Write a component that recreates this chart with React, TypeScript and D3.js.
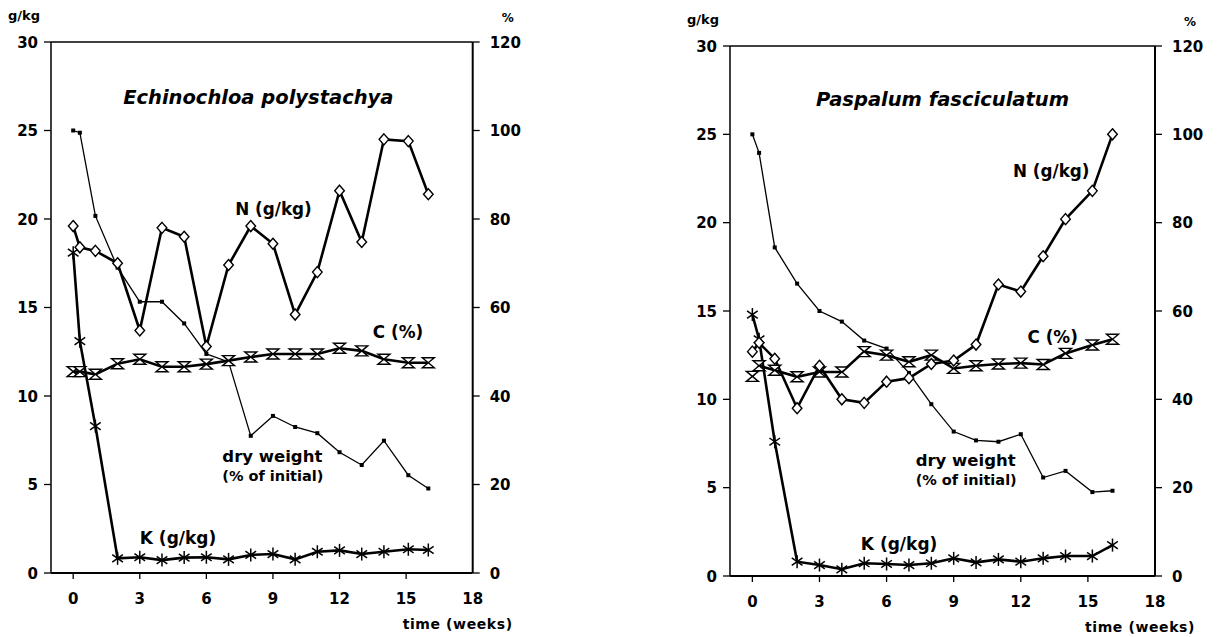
import React from "react";
import { scaleLinear, line } from "d3";

// ---- data ----
const echWeeks = [0, 0.3, 1, 2, 3, 4, 5, 6, 7, 8, 9, 10, 11, 12, 13, 14, 15.1, 16];
const echN = [19.6, 18.4, 18.2, 17.5, 13.7, 19.5, 19.0, 12.8, 17.4, 19.6, 18.6, 14.6, 17.0, 21.6, 18.7, 24.5, 24.4, 21.4];
const echK = [18.1, 13.1, 8.3, 0.83, 0.89, 0.73, 0.87, 0.89, 0.77, 1.02, 1.07, 0.77, 1.2, 1.28, 1.07, 1.2, 1.34, 1.3];
const echC = [45.5, 45.5, 44.9, 47.3, 48.3, 46.6, 46.6, 47.2, 48.0, 48.8, 49.5, 49.5, 49.5, 50.8, 50.2, 48.3, 47.5, 47.5];
const echDry = [100, 99.5, 80.7, 69, 61.3, 61.3, 56.4, 49.5, 47.7, 31, 35.5, 33, 31.6, 27.3, 24.4, 29.9, 22.1, 19.1];

const pasWeeks = [0, 0.3, 1, 2, 3, 4, 5, 6, 7, 8, 9, 10, 11, 12, 13, 14, 15.2, 16.1];
const pasN = [12.7, 13.2, 12.3, 9.5, 11.9, 10.0, 9.8, 11.0, 11.2, 12.0, 12.2, 13.1, 16.5, 16.1, 18.1, 20.2, 21.8, 25.0];
const pasK = [14.8, 13.4, 7.6, 0.81, 0.62, 0.38, 0.72, 0.68, 0.62, 0.72, 1.0, 0.77, 0.94, 0.81, 1.0, 1.13, 1.13, 1.75];
const pasC = [45.2, 47.6, 46.6, 45.1, 46.2, 46.2, 50.8, 50.0, 48.5, 50.0, 47.0, 47.6, 48.0, 48.2, 47.9, 50.4, 52.3, 53.6];
const pasDry = [100, 95.8, 74.4, 66.2, 60, 57.6, 53.3, 51.5, 46, 38.9, 32.7, 30.7, 30.4, 32.1, 22.3, 23.8, 19, 19.3];

const leftTicks = [0, 5, 10, 15, 20, 25, 30];
const rightTicks = [0, 20, 40, 60, 80, 100, 120];
const weekTicks = [0, 3, 6, 9, 12, 15, 18];

const panels = [
  {
    title: "Echinochloa polystachya",
    weeks: echWeeks, n: echN, k: echK, c: echC, dry: echDry,
    x0: 51, x1: 472.7, yTop: 42, yBot: 573,
    titleAt: [2.25, 26.5],
    nAt: [7.3, 20.2], cAt: [13.5, 13.3], dryAt: [6.72, 6.27], kAt: [3.0, 1.64],
  },
  {
    title: "Paspalum fasciculatum",
    weeks: pasWeeks, n: pasN, k: pasK, c: pasC, dry: pasDry,
    x0: 730, x1: 1155, yTop: 46, yBot: 576,
    titleAt: [2.85, 26.6],
    nAt: [11.65, 22.6], cAt: [12.3, 13.2], dryAt: [7.3, 6.2], kAt: [4.85, 1.5],
  },
];

const FONT = "'DejaVu Sans', sans-serif";

function Diamond({ x, y }: { x: number; y: number }) {
  return <path d={`M${x},${y - 5.5}L${x + 4.8},${y}L${x},${y + 5.5}L${x - 4.8},${y}Z`} fill="#fff" stroke="#000" strokeWidth={1.4} />;
}
function Hourglass({ x, y }: { x: number; y: number }) {
  return <path d={`M${x - 6},${y - 5}H${x + 6}L${x - 6},${y + 5}H${x + 6}Z`} fill="#fff" stroke="#000" strokeWidth={1.4} strokeLinejoin="miter" />;
}
function Star({ x, y }: { x: number; y: number }) {
  const r = 6.5;
  const angs = [90, 35, 145];
  return (
    <g stroke="#000" strokeWidth={1.5}>
      {angs.map((a) => {
        const dx = r * Math.cos((a * Math.PI) / 180);
        const dy = r * Math.sin((a * Math.PI) / 180);
        return <line key={a} x1={x - dx} y1={y - dy} x2={x + dx} y2={y + dy} />;
      })}
    </g>
  );
}

function Panel({ p }: { p: (typeof panels)[number] }) {
  const x = scaleLinear().domain([-1, 18]).range([p.x0, p.x1]);
  const yL = scaleLinear().domain([0, 30]).range([p.yBot, p.yTop]);
  const yR = scaleLinear().domain([0, 120]).range([p.yBot, p.yTop]);
  const ptsL = (vals: number[]) => p.weeks.map((w, i) => [x(w), yL(vals[i])] as [number, number]);
  const ptsR = (vals: number[]) => p.weeks.map((w, i) => [x(w), yR(vals[i])] as [number, number]);
  const gen = line();
  const nPts = ptsL(p.n), kPts = ptsL(p.k), cPts = ptsR(p.c), dPts = ptsR(p.dry);
  const bold = { fontFamily: FONT, fontWeight: "bold" as const, fill: "#000" };

  return (
    <g>
      {/* frame */}
      <line x1={p.x0} x2={p.x1} y1={p.yTop} y2={p.yTop} stroke="#000" strokeWidth={1.5} />
      <line x1={p.x0} x2={p.x1} y1={p.yBot} y2={p.yBot} stroke="#000" strokeWidth={2} />
      <line x1={p.x0} x2={p.x0} y1={p.yTop} y2={p.yBot} stroke="#000" strokeWidth={1.5} />
      <line x1={p.x1} x2={p.x1} y1={p.yTop} y2={p.yBot} stroke="#000" strokeWidth={2} />

      {/* left axis */}
      {leftTicks.map((t) => (
        <g key={"l" + t}>
          <line x1={p.x0 - 7} x2={p.x0} y1={yL(t)} y2={yL(t)} stroke="#000" strokeWidth={1.3} />
          <text x={p.x0 - 13} y={yL(t) + 5.5} textAnchor="end" fontSize={15} {...bold}>{t}</text>
        </g>
      ))}
      {/* right axis */}
      {rightTicks.map((t) => (
        <g key={"r" + t}>
          <line x1={p.x1} x2={p.x1 + 7} y1={yR(t)} y2={yR(t)} stroke="#000" strokeWidth={1.3} />
          <text x={p.x1 + 17} y={yR(t) + 5.5} textAnchor="start" fontSize={15} {...bold}>{t}</text>
        </g>
      ))}
      {/* x axis */}
      {weekTicks.map((t) => (
        <g key={"x" + t}>
          {t < 18 && <line x1={x(t)} x2={x(t)} y1={p.yBot} y2={p.yBot + 6} stroke="#000" strokeWidth={1.3} />}
          <text x={x(t)} y={p.yBot + 31} textAnchor="middle" fontSize={15} {...bold}>{t}</text>
        </g>
      ))}
      <text x={p.x0 - 43} y={p.yTop - 22} fontSize={13} {...bold}>g/kg</text>
      <text x={p.x1 + 29} y={p.yTop - 20} fontSize={12} {...bold}>%</text>
      <text x={p.x1 + 40} y={p.yBot + 56} textAnchor="end" fontSize={14} letterSpacing={0.6} {...bold}>time (weeks)</text>

      {/* series lines */}
      <path d={gen(dPts) || ""} fill="none" stroke="#000" strokeWidth={1.3} />
      <path d={gen(cPts) || ""} fill="none" stroke="#000" strokeWidth={2.6} />
      <path d={gen(kPts) || ""} fill="none" stroke="#000" strokeWidth={2.6} />
      <path d={gen(nPts) || ""} fill="none" stroke="#000" strokeWidth={2.6} />

      {/* markers */}
      {dPts.map(([px, py], i) => <rect key={"d" + i} x={px - 2} y={py - 2} width={4} height={4} fill="#000" />)}
      {cPts.map(([px, py], i) => <Hourglass key={"c" + i} x={px} y={py} />)}
      {kPts.map(([px, py], i) => <Star key={"k" + i} x={px} y={py} />)}
      {nPts.map(([px, py], i) => <Diamond key={"n" + i} x={px} y={py} />)}

      {/* labels */}
      <text x={x(p.titleAt[0])} y={yL(p.titleAt[1])} fontSize={19.5} fontStyle="italic" {...bold}>{p.title}</text>
      <text x={x(p.nAt[0])} y={yL(p.nAt[1])} fontSize={16.8} {...bold}>N (g/kg)</text>
      <text x={x(p.cAt[0])} y={yL(p.cAt[1])} fontSize={16.8} {...bold}>C (%)</text>
      <text x={x(p.dryAt[0])} y={yL(p.dryAt[1])} fontSize={16.5} {...bold}>dry weight</text>
      <text x={x(p.dryAt[0])} y={yL(p.dryAt[1]) + 19} fontSize={14.5} {...bold}>(% of initial)</text>
      <text x={x(p.kAt[0])} y={yL(p.kAt[1])} fontSize={17} {...bold}>K (g/kg)</text>
    </g>
  );
}

export default function App() {
  return (
    <svg width={1217} height={637} style={{ position: "absolute", left: 0, top: 0, background: "#fff" }}>
      <rect width={1217} height={637} fill="#fff" />
      {panels.map((p) => <Panel key={p.title} p={p} />)}
    </svg>
  );
}
